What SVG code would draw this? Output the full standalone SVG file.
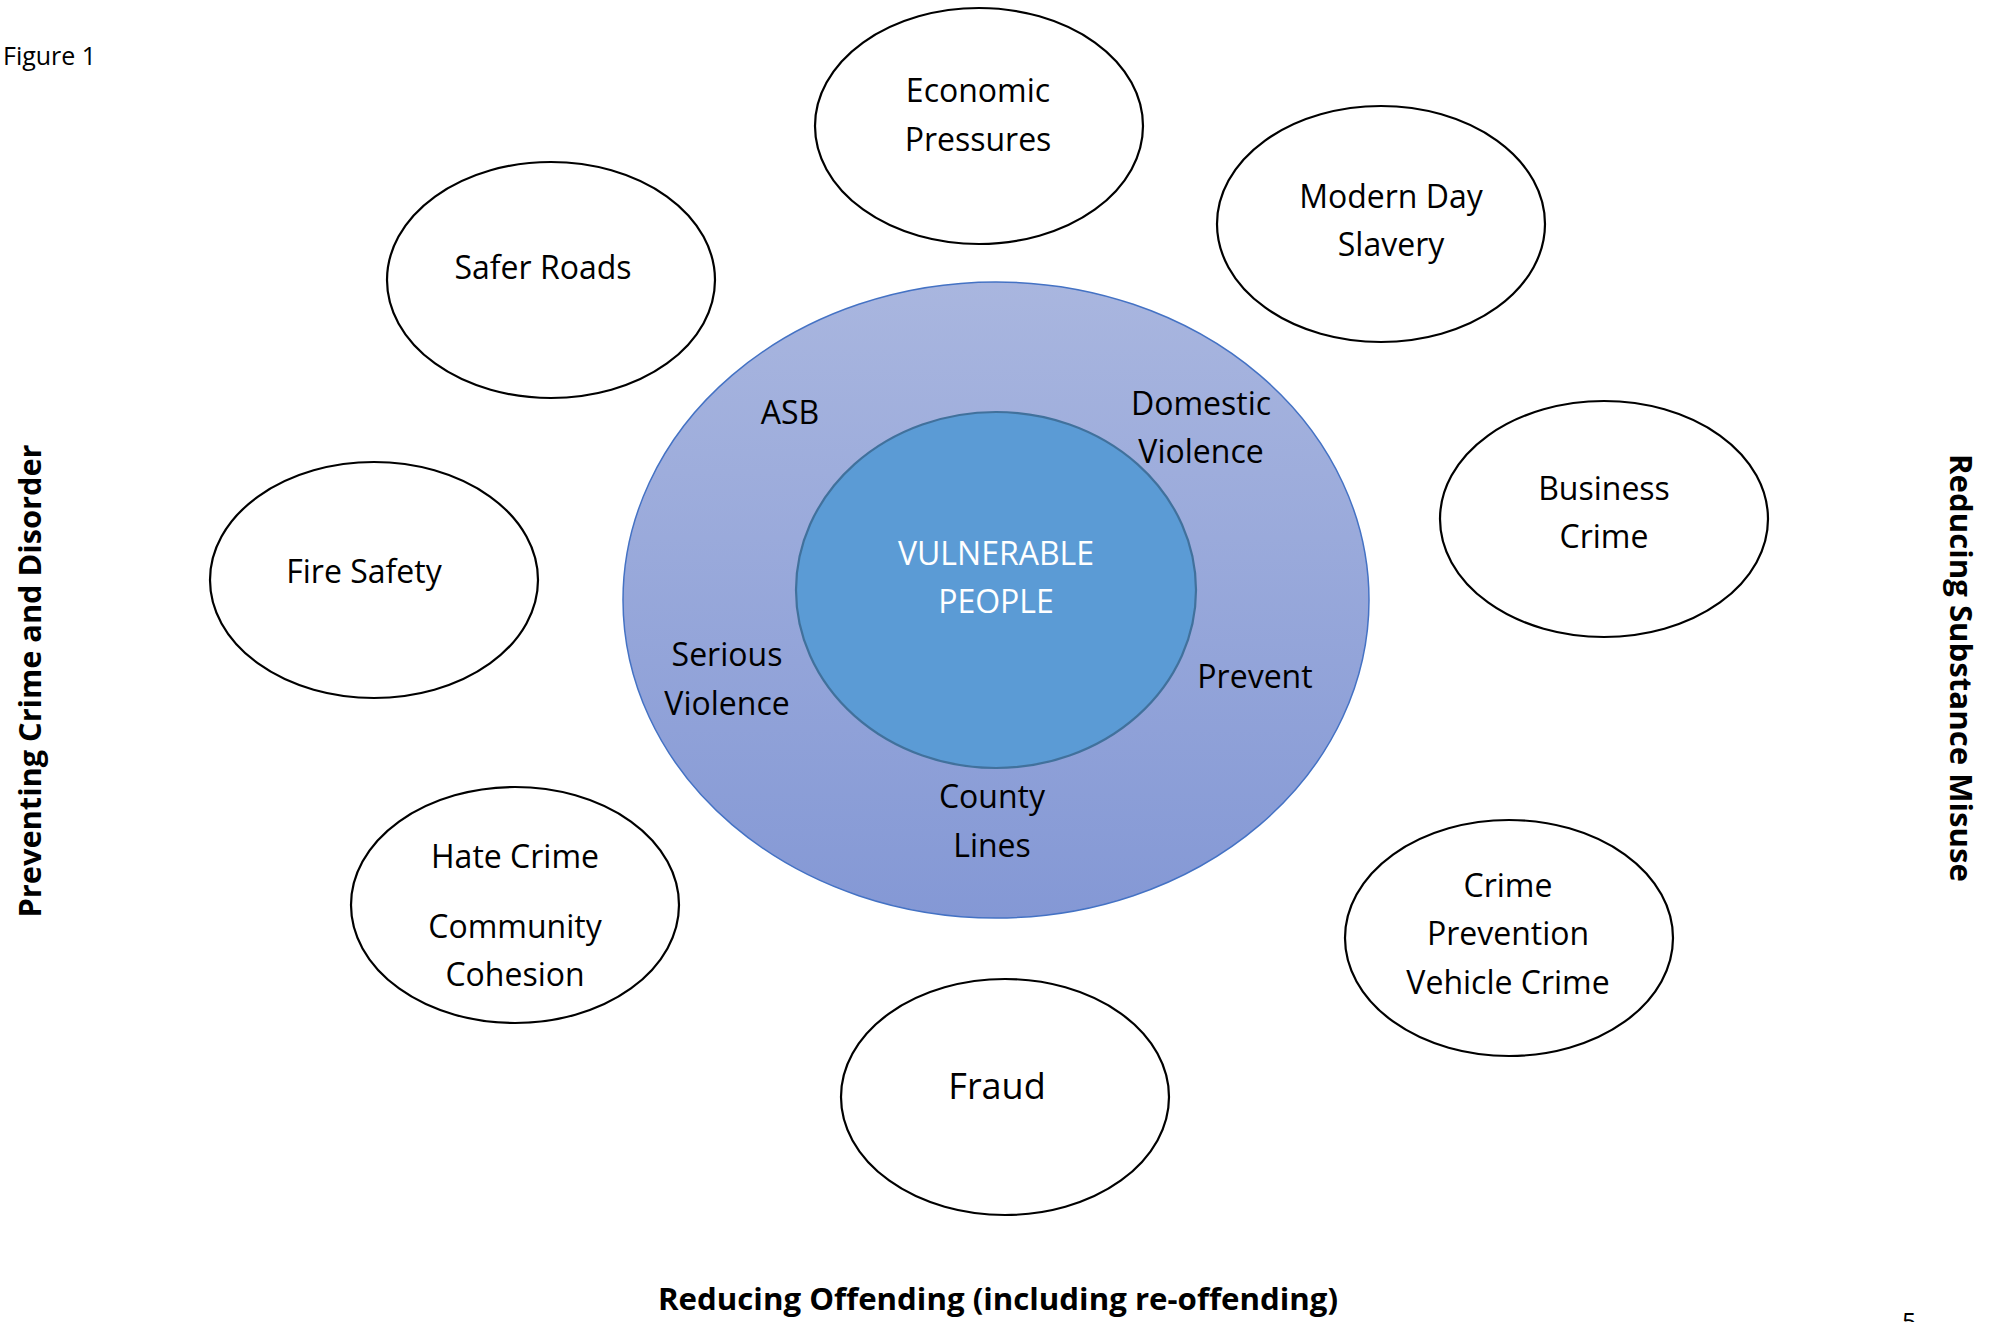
<svg xmlns="http://www.w3.org/2000/svg" width="2004" height="1322" viewBox="0 0 2004 1322">
  <style>
    .bubble { fill: #ffffff; stroke: #000000; stroke-width: 2.2; }
    .lbl { font-family: "Open Sans", "Liberation Sans", sans-serif; font-size: 32px; fill: #000000; text-anchor: middle; }
    .big { font-size: 36px; }
    .white { fill: #ffffff; }
    .axis { font-family: "Open Sans", "Liberation Sans", sans-serif; font-weight: bold; fill: #000000; text-anchor: middle; }
    .small { font-family: "Open Sans", "Liberation Sans", sans-serif; font-size: 25px; fill: #000000; }
  </style>
  <defs>
    <linearGradient id="outerFill" x1="0" y1="0" x2="0" y2="1">
      <stop offset="0" stop-color="#a9b6df"/>
      <stop offset="1" stop-color="#8498d5"/>
    </linearGradient>
  </defs>
  <rect width="2004" height="1322" fill="#ffffff"/>

  <text class="small" x="3" y="65">Figure 1</text>
  <text class="small" x="1902" y="1331">5</text>

  <g id="axis-left">
    <text class="axis" font-size="30.5" transform="translate(41,681) rotate(-90)" textLength="473" lengthAdjust="spacingAndGlyphs">Preventing Crime and Disorder</text>
  </g>
  <g id="axis-right">
    <text class="axis" font-size="30.5" transform="translate(1950,668) rotate(90)" textLength="428" lengthAdjust="spacingAndGlyphs">Reducing Substance Misuse</text>
  </g>
  <g id="axis-bottom">
    <text class="axis" font-size="31" x="998" y="1310" textLength="680" lengthAdjust="spacingAndGlyphs">Reducing Offending (including re-offending)</text>
  </g>

  <g id="outer-ring">
    <ellipse cx="996" cy="600" rx="373" ry="318" fill="url(#outerFill)" stroke="#4472c4" stroke-width="1.5"/>
    <text class="lbl" x="790" y="424">ASB</text>
    <text class="lbl" x="1201" y="415">Domestic</text>
    <text class="lbl" x="1201" y="463">Violence</text>
    <text class="lbl" x="727" y="666">Serious</text>
    <text class="lbl" x="727" y="715">Violence</text>
    <text class="lbl" x="1255" y="688">Prevent</text>
    <text class="lbl" x="992" y="808">County</text>
    <text class="lbl" x="992" y="857">Lines</text>
  </g>

  <g id="vulnerable-people">
    <ellipse cx="996" cy="590" rx="200" ry="178" fill="#5b9bd5" stroke="#41719c" stroke-width="2.2"/>
    <text class="lbl white" x="996" y="565">VULNERABLE</text>
    <text class="lbl white" x="996" y="613">PEOPLE</text>
  </g>

  <g id="economic-pressures">
    <ellipse class="bubble" cx="979" cy="126" rx="164" ry="118"/>
    <text class="lbl" x="978" y="102">Economic</text>
    <text class="lbl" x="978" y="151">Pressures</text>
  </g>

  <g id="safer-roads">
    <ellipse class="bubble" cx="551" cy="280" rx="164" ry="118"/>
    <text class="lbl" x="543" y="279">Safer Roads</text>
  </g>

  <g id="modern-day-slavery">
    <ellipse class="bubble" cx="1381" cy="224" rx="164" ry="118"/>
    <text class="lbl" x="1391" y="208">Modern Day</text>
    <text class="lbl" x="1391" y="256">Slavery</text>
  </g>

  <g id="business-crime">
    <ellipse class="bubble" cx="1604" cy="519" rx="164" ry="118"/>
    <text class="lbl" x="1604" y="500">Business</text>
    <text class="lbl" x="1604" y="548">Crime</text>
  </g>

  <g id="crime-prevention">
    <ellipse class="bubble" cx="1509" cy="938" rx="164" ry="118"/>
    <text class="lbl" x="1508" y="897">Crime</text>
    <text class="lbl" x="1508" y="945">Prevention</text>
    <text class="lbl" x="1508" y="994">Vehicle Crime</text>
  </g>

  <g id="fraud">
    <ellipse class="bubble" cx="1005" cy="1097" rx="164" ry="118"/>
    <text class="lbl big" x="997" y="1099">Fraud</text>
  </g>

  <g id="hate-crime">
    <ellipse class="bubble" cx="515" cy="905" rx="164" ry="118"/>
    <text class="lbl" x="515" y="868">Hate Crime</text>
    <text class="lbl" x="515" y="938">Community</text>
    <text class="lbl" x="515" y="986">Cohesion</text>
  </g>

  <g id="fire-safety">
    <ellipse class="bubble" cx="374" cy="580" rx="164" ry="118"/>
    <text class="lbl" x="364" y="583">Fire Safety</text>
  </g>

  <g id="connectors"/>
</svg>
